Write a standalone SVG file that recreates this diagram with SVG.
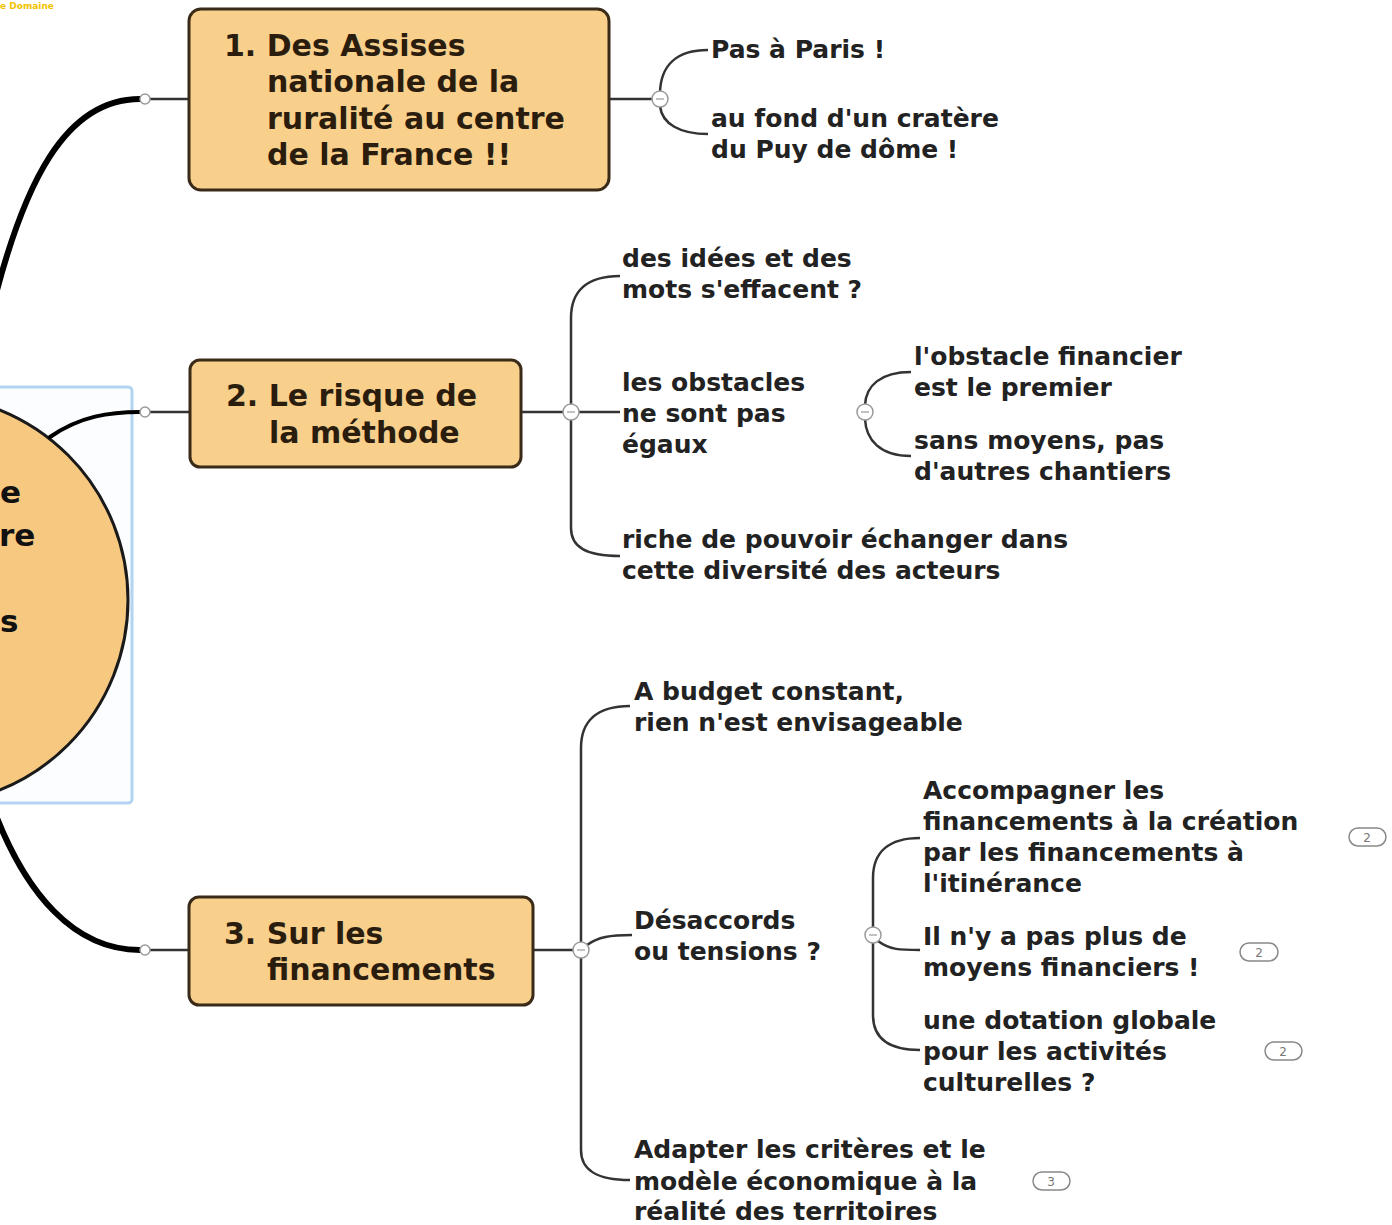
<svg xmlns="http://www.w3.org/2000/svg" width="1392" height="1225" viewBox="0 0 1392 1225">
<style>
.bg{fill:#ffffff}
.topic{fill:#f8cf8b;stroke:#3a2a18;stroke-width:3}
.tt{font-family:"DejaVu Sans","Verdana",sans-serif;font-weight:bold;font-size:30px;fill:#2b1d0e}
.st{font-family:"DejaVu Sans","Verdana",sans-serif;font-weight:bold;font-size:25px;fill:#222222}
.thick{fill:none;stroke:#000;stroke-width:6;stroke-linecap:round}
.thin{fill:none;stroke:#333;stroke-width:2.5}
.knob{fill:#fff;stroke:#9a9a9a;stroke-width:1.5}
.minus{stroke:#999;stroke-width:1.2}
.badge{fill:#fff;stroke:#888;stroke-width:1.5}
.bt{font-family:"DejaVu Sans",sans-serif;font-size:12px;fill:#777;text-anchor:middle}
</style>
<rect class="bg" x="0" y="0" width="1392" height="1225"/>
<text x="0" y="9" style="font-family:'DejaVu Sans',sans-serif;font-size:9px;font-weight:bold;fill:#f2c200">e Domaine</text>

<g id="central">
  <rect x="-6" y="387" width="138" height="416" rx="4" fill="#fbfdff" stroke="#b3d4f0" stroke-width="3"/>
  <circle cx="-77" cy="600" r="205" fill="#f7c87f" stroke="#1a1a1a" stroke-width="3"/>
  <text class="tt" x="0" y="503" style="font-size:31px;fill:#111">e</text>
  <text class="tt" x="-1" y="546" style="font-size:31px;fill:#111">re</text>
  <text class="tt" x="0" y="632" style="font-size:31px;fill:#111">s</text>
</g>

<g id="connectors">
  <path class="thick" d="M -14 335 C 22 175, 68 99, 140 99"/>
  <path class="thick" d="M 50 437 C 80 416, 110 412, 140 412" style="stroke-width:4"/>
  <path class="thick" d="M -8 805 C 25 895, 75 950, 140 950"/>
  <line class="thin" x1="150" y1="99" x2="189" y2="99"/>
  <line class="thin" x1="150" y1="412" x2="190" y2="412"/>
  <line class="thin" x1="150" y1="950" x2="189" y2="950"/>
  <!-- branch 1 -->
  <line class="thin" x1="609" y1="99" x2="653" y2="99"/>
  <path class="thin" d="M 660 92 C 661 65, 677 50, 708 50"/>
  <path class="thin" d="M 660 106 C 662 124, 680 134, 708 134"/>
  <!-- branch 2 -->
  <line class="thin" x1="521" y1="412" x2="564" y2="412"/>
  <path class="thin" d="M 620 276 C 586 276, 571 292, 571 318 L 571 528 C 571 547, 586 556, 620 556"/>
  <line class="thin" x1="578" y1="412" x2="620" y2="412"/>
  <path class="thin" d="M 865 405 C 866 386, 880 372, 911 372"/>
  <path class="thin" d="M 865 419 C 866 440, 880 456, 911 456"/>
  <!-- branch 3 -->
  <line class="thin" x1="533" y1="950" x2="574" y2="950"/>
  <path class="thin" d="M 630 706 C 596 706, 581 722, 581 748 L 581 1150 C 581 1170, 596 1180, 630 1180"/>
  <path class="thin" d="M 587 945 C 598 937, 610 935, 632 935"/>
  <path class="thin" d="M 920 838 C 889 838, 873 852, 873 878 L 873 1015 C 873 1038, 889 1050, 920 1050"/>
  <path class="thin" d="M 878 941 C 890 950, 900 950, 920 950"/>
</g>

<g id="knobs">
  <circle class="knob" cx="145" cy="99" r="5"/>
  <circle class="knob" cx="145" cy="412" r="5"/>
  <circle class="knob" cx="145" cy="950" r="5"/>
  <g><circle class="knob" cx="660" cy="99" r="8"/><line class="minus" x1="656" y1="99" x2="664" y2="99"/></g>
  <g><circle class="knob" cx="571" cy="412" r="8"/><line class="minus" x1="567" y1="412" x2="575" y2="412"/></g>
  <g><circle class="knob" cx="865" cy="412" r="8"/><line class="minus" x1="861" y1="412" x2="869" y2="412"/></g>
  <g><circle class="knob" cx="581" cy="950" r="8"/><line class="minus" x1="577" y1="950" x2="585" y2="950"/></g>
  <g><circle class="knob" cx="873" cy="935" r="8"/><line class="minus" x1="869" y1="935" x2="877" y2="935"/></g>
</g>

<g id="topic1">
  <rect class="topic" x="189" y="9" width="420" height="181" rx="12"/>
  <text class="tt" x="224" y="56">1. Des Assises</text>
  <text class="tt" x="267" y="92">nationale de la</text>
  <text class="tt" x="267" y="129">ruralité au centre</text>
  <text class="tt" x="267" y="165">de la France !!</text>
</g>
<g id="topic2">
  <rect class="topic" x="190" y="360" width="331" height="107" rx="10"/>
  <text class="tt" x="226" y="406">2. Le risque de</text>
  <text class="tt" x="269" y="443">la méthode</text>
</g>
<g id="topic3">
  <rect class="topic" x="189" y="897" width="344" height="108" rx="10"/>
  <text class="tt" x="224" y="944">3. Sur les</text>
  <text class="tt" x="267" y="980">financements</text>
</g>

<g id="n1a"><text class="st" x="711" y="58">Pas à Paris !</text></g>
<g id="n1b"><text class="st" x="711" y="127">au fond d'un cratère</text><text class="st" x="711" y="158">du Puy de dôme !</text></g>

<g id="n2a"><text class="st" x="622" y="267">des idées et des</text><text class="st" x="622" y="298">mots s'effacent ?</text></g>
<g id="n2b"><text class="st" x="622" y="391">les obstacles</text><text class="st" x="622" y="422">ne sont pas</text><text class="st" x="622" y="453">égaux</text></g>
<g id="n2b1"><text class="st" x="914" y="365">l'obstacle financier</text><text class="st" x="914" y="396">est le premier</text></g>
<g id="n2b2"><text class="st" x="914" y="449">sans moyens, pas</text><text class="st" x="914" y="480">d'autres chantiers</text></g>
<g id="n2c"><text class="st" x="622" y="548">riche de pouvoir échanger dans</text><text class="st" x="622" y="579">cette diversité des acteurs</text></g>

<g id="n3a"><text class="st" x="634" y="700">A budget constant,</text><text class="st" x="634" y="731">rien n'est envisageable</text></g>
<g id="n3b"><text class="st" x="634" y="929">Désaccords</text><text class="st" x="634" y="960">ou tensions ?</text></g>
<g id="n3b1"><text class="st" x="923" y="799">Accompagner les</text><text class="st" x="923" y="830">financements à la création</text><text class="st" x="923" y="861">par les financements à</text><text class="st" x="923" y="892">l'itinérance</text>
  <rect class="badge" x="1349" y="828" width="37" height="18" rx="9"/><text class="bt" x="1367" y="842">2</text></g>
<g id="n3b2"><text class="st" x="923" y="945">Il n'y a pas plus de</text><text class="st" x="923" y="976">moyens financiers !</text>
  <rect class="badge" x="1240" y="943" width="38" height="18" rx="9"/><text class="bt" x="1259" y="957">2</text></g>
<g id="n3b3"><text class="st" x="923" y="1029">une dotation globale</text><text class="st" x="923" y="1060">pour les activités</text><text class="st" x="923" y="1091">culturelles ?</text>
  <rect class="badge" x="1265" y="1042" width="37" height="18" rx="9"/><text class="bt" x="1283" y="1056">2</text></g>
<g id="n3c"><text class="st" x="634" y="1158">Adapter les critères et le</text><text class="st" x="634" y="1190">modèle économique à la</text><text class="st" x="634" y="1220">réalité des territoires</text>
  <rect class="badge" x="1033" y="1172" width="37" height="18" rx="9"/><text class="bt" x="1051" y="1186">3</text></g>
</svg>
